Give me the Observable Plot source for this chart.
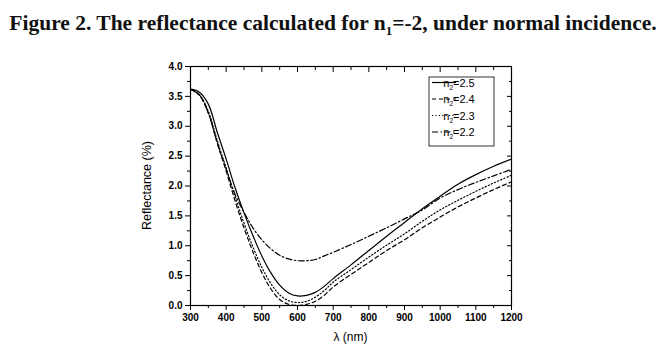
<!DOCTYPE html>
<html>
<head>
<meta charset="utf-8">
<script src="https://cdn.jsdelivr.net/npm/d3@7"></script>
<script src="https://cdn.jsdelivr.net/npm/@observablehq/plot@0.6"></script>
<style>
  html, body { margin: 0; padding: 0; background: #fff; }
  #wrap { position: relative; width: 666px; height: 354px; overflow: hidden; }
  #title { position: absolute; left: 0; top: 11px; width: 666px; text-align: center;
    font-family: "Liberation Serif", "DejaVu Serif", serif; font-weight: bold; font-size: 21.5px; color: #111; white-space: nowrap; }
  #title sub { font-size: 13px; vertical-align: -5px; line-height: 0; }
  #chart { position: absolute; left: 0; top: 48px; }
</style>
</head>
<body>
<div id="wrap">
  <div id="title">Figure 2. The reflectance calculated for n<sub>1</sub>=-2, under normal incidence.</div>
  <div id="chart"></div>
</div>
<script>
// wavelengths (nm)
const wavelength = [300, 325, 350, 375, 400, 425, 450, 475, 500, 525, 550, 575, 600, 625, 650, 675, 700, 750, 800, 850, 900, 950, 1000, 1050, 1100, 1150, 1200];
// reflectance (%) for each n2
const r25 = [3.62, 3.57, 3.37, 2.90, 2.45, 1.97, 1.55, 1.17, 0.83, 0.55, 0.34, 0.21, 0.16, 0.17, 0.22, 0.32, 0.45, 0.68, 0.92, 1.16, 1.39, 1.62, 1.83, 2.03, 2.19, 2.33, 2.45];
const r24 = [3.62, 3.52, 3.22, 2.72, 2.25, 1.75, 1.30, 0.90, 0.55, 0.28, 0.10, 0.02, 0.00, 0.02, 0.07, 0.17, 0.31, 0.52, 0.72, 0.92, 1.10, 1.30, 1.48, 1.65, 1.80, 1.94, 2.07];
const r23 = [3.62, 3.53, 3.25, 2.76, 2.30, 1.82, 1.38, 0.98, 0.64, 0.37, 0.18, 0.08, 0.05, 0.07, 0.14, 0.25, 0.39, 0.60, 0.81, 1.01, 1.20, 1.41, 1.60, 1.76, 1.91, 2.05, 2.18];
const r22 = [3.62, 3.52, 3.22, 2.72, 2.28, 1.86, 1.56, 1.30, 1.10, 0.95, 0.84, 0.78, 0.75, 0.75, 0.77, 0.83, 0.89, 1.02, 1.16, 1.30, 1.45, 1.60, 1.80, 1.94, 2.06, 2.17, 2.28];
const seriesNames = ["n2=2.5", "n2=2.4", "n2=2.3", "n2=2.2"];
const legendLabels = ["2.5", "2.4", "2.3", "2.2"];
const xTicks = [300, 400, 500, 600, 700, 800, 900, 1000, 1100, 1200];
const xMinor = [350, 450, 550, 650, 750, 850, 950, 1050, 1150];
const yTicks = [0, 0.5, 1.0, 1.5, 2.0, 2.5, 3.0, 3.5, 4.0];
const yMinor = [0.25, 0.75, 1.25, 1.75, 2.25, 2.75, 3.25, 3.75];

const dashes = [null, "4,3", "1.2,2.2", "6,2.5,1.5,2.5"];
const allSeries = [r25, r24, r23, r22];
const table = allSeries.map((vals, i) => wavelength.map((w, j) => ({w, r: vals[j], s: seriesNames[i]})));

const font = "'Liberation Sans', Arial, sans-serif";
const lines = table.map((d, i) => Plot.line(d, {x: "w", y: "r", stroke: "black", strokeWidth: 1.2,
  strokeDasharray: dashes[i] ?? undefined, curve: "catmull-rom", clip: true}));

const plot = Plot.plot({
  width: 666,
  height: 306,
  marginLeft: 190,
  marginRight: 155,
  marginTop: 18,
  marginBottom: 49,
  style: {fontFamily: font, fontSize: "10px", color: "black", background: "white"},
  x: {domain: [300, 1200]},
  y: {domain: [0, 4]},
  marks: [
    ...lines,
    Plot.frame({stroke: "black", strokeWidth: 1.2}),
    Plot.axisX(xTicks, {anchor: "bottom", tickSize: 5, tickPadding: 3, fontWeight: "bold", fontSize: 10, tickFormat: d => String(d), label: null}),
    Plot.axisX(xMinor, {anchor: "bottom", tickSize: 3, text: null, label: null}),
    Plot.axisX(xTicks, {anchor: "top", tickSize: 5, dy: 5, text: null, label: null}),
    Plot.axisX(xMinor, {anchor: "top", tickSize: 3, dy: 3, text: null, label: null}),
    Plot.axisY(yTicks, {anchor: "left", tickSize: 5, tickPadding: 3, fontWeight: "bold", fontSize: 10, tickFormat: d => d.toFixed(1), label: null}),
    Plot.axisY(yMinor, {anchor: "left", tickSize: 3, text: null, label: null}),
    Plot.axisY(yTicks, {anchor: "right", tickSize: 5, dx: -5, text: null, label: null}),
    Plot.axisY(yMinor, {anchor: "right", tickSize: 3, dx: -3, text: null, label: null})
  ]
});
document.getElementById("chart").appendChild(plot);

// axis titles and legend overlay
const svg = d3.select(plot);
svg.append("text").attr("x", 350.5).attr("y", 293).attr("text-anchor", "middle")
  .attr("font-family", font).attr("font-size", 12).text("λ (nm)");
svg.append("text").attr("transform", "translate(151,137.5) rotate(-90)").attr("text-anchor", "middle")
  .attr("font-family", font).attr("font-size", 12.5).text("Reflectance (%)");

const lg = svg.append("g").attr("transform", "translate(429,29)");
lg.append("rect").attr("x", 0).attr("y", 0).attr("width", 65).attr("height", 69)
  .attr("fill", "white").attr("stroke", "black").attr("stroke-width", 0.8);
legendLabels.forEach((lab, i) => {
  const y = 5.5 + i * 16.5;
  lg.append("line").attr("x1", 3).attr("x2", 27).attr("y1", y).attr("y2", y)
    .attr("stroke", "black").attr("stroke-width", 1.2).attr("stroke-dasharray", dashes[i]);
  const t = lg.append("text").attr("x", 30).attr("y", y + 4).attr("font-family", font).attr("font-size", 11);
  t.append("tspan").text("n");
  t.append("tspan").attr("font-size", 6.5).attr("dy", 3).text("2");
  t.append("tspan").attr("dy", -3).text("=" + lab);
});
</script>
</body>
</html>
